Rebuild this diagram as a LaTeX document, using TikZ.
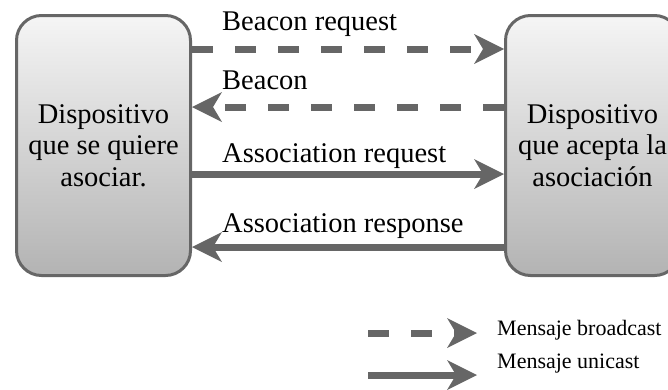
\documentclass[tikz,border=0pt]{standalone}
\usepackage{fontspec}
\setmainfont{Liberation Serif}
\usepackage{xcolor}
\usetikzlibrary{arrows.meta}
\definecolor{linegray}{HTML}{666666}
\definecolor{boxtop}{HTML}{F5F5F5}
\definecolor{boxbottom}{HTML}{B3B3B3}
\tikzset{
  device/.style={draw=linegray,line width=3pt,rounded corners=25pt,top color=boxtop,bottom color=boxbottom,minimum width=174pt,minimum height=260pt,outer sep=1.5pt,align=center,font=\fontsize{28.5}{31.5}\selectfont},
  msglabel/.style={anchor=base west,inner sep=0pt,font=\fontsize{28.5}{31.5}\selectfont},
  keylabel/.style={anchor=base west,inner sep=0pt,font=\fontsize{22}{24}\selectfont},
  ucastarrow/.style={draw=linegray,line width=7pt,-{Stealth[length=30pt,width=30pt,inset=9pt,line width=0pt]}},
  bcastarrow/.style={ucastarrow,dash pattern=on 21pt off 22pt}
}

\begin{document}
\begin{tikzpicture}[x=1pt,y=-1pt]
  \useasboundingbox (0,0) rectangle (668,389);
  \clip (0,0) rectangle (668,389);
  % the two devices
  \node[device] (quiere) at (103.5,145.5) {Dispositivo\\que se quiere\\asociar.};
  \node[device] (acepta) at (592.5,145.5) {Dispositivo\\que acepta la\\asociación};
  % messages
  \draw[bcastarrow] (quiere.east |- 0,49) -- (acepta.west |- 0,49);
  \node[msglabel] (breq) at (222,30) {Beacon request};
  \draw[bcastarrow] (acepta.west |- 0,107) -- (quiere.east |- 0,107);
  \node[msglabel] (bcn) at (222,89) {Beacon};
  \draw[ucastarrow] (quiere.east |- 0,174) -- (acepta.west |- 0,174);
  \node[msglabel] (areq) at (222,162) {Association request};
  \draw[ucastarrow] (acepta.west |- 0,247) -- (quiere.east |- 0,247);
  \node[msglabel] (aresp) at (222,232) {Association response};
  % legend
  \coordinate (kb0) at (368,333);
  \coordinate (kb1) at (477,333);
  \draw[bcastarrow] (kb0) -- (kb1);
  \node[keylabel] (kbtxt) at (497,335) {Mensaje broadcast};
  \coordinate (ku0) at (368,375);
  \coordinate (ku1) at (477,375);
  \draw[ucastarrow] (ku0) -- (ku1);
  \node[keylabel] (kutxt) at (497,368) {Mensaje unicast};
\end{tikzpicture}
\end{document}
